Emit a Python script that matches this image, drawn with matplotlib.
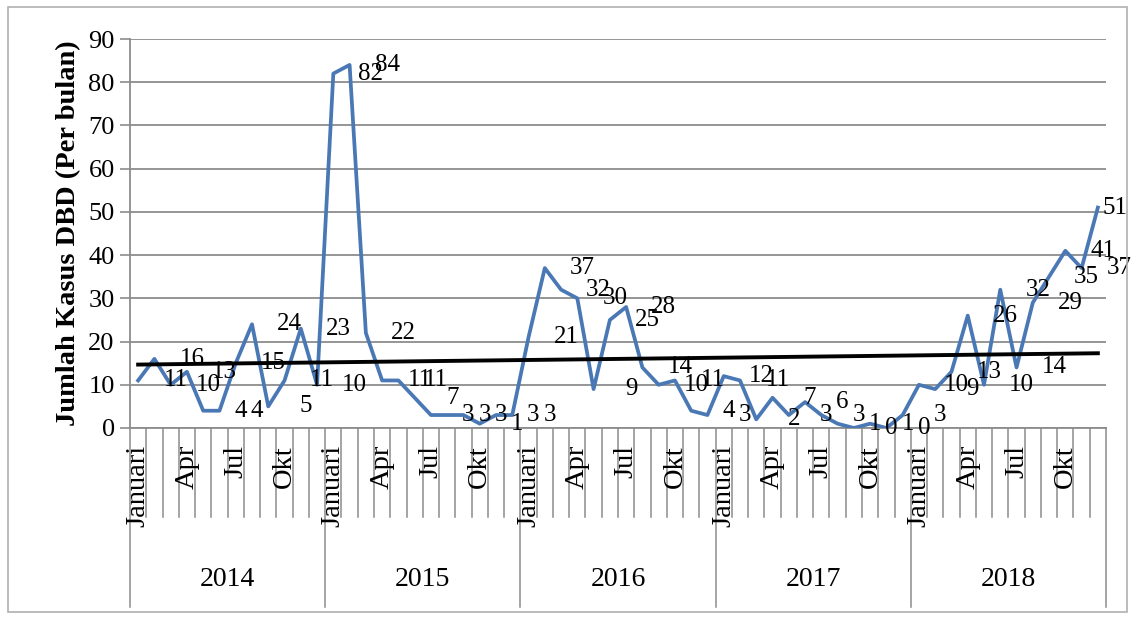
# Monthly DBD cases 2014-2018 with linear trend
import numpy as np
import matplotlib.pyplot as plt
import matplotlib.transforms as mtransforms
from matplotlib.patches import Rectangle

plt.rcParams['font.family'] = ['Liberation Serif', 'DejaVu Serif']

years = ['2014', '2015', '2016', '2017', '2018']
month_labels = {0: 'Januari', 3: 'Apr', 6: 'Jul', 9: 'Okt'}

cases_2014 = [11, 16, 10, 13, 4, 4, 15, 24, 5, 11, 23, 10]
cases_2015 = [82, 84, 22, 11, 11, 7, 3, 3, 3, 1, 3, 3]
cases_2016 = [21, 37, 32, 30, 9, 25, 28, 14, 10, 11, 4, 3]
cases_2017 = [12, 11, 2, 7, 3, 6, 3, 1, 0, 1, 0, 3]
cases_2018 = [10, 9, 13, 26, 10, 32, 14, 29, 35, 41, 37, 51]

cases = np.array(cases_2014 + cases_2015 + cases_2016 + cases_2017 + cases_2018)
x = np.arange(len(cases))

W, H = 1134, 619
fig = plt.figure(figsize=(W / 100, H / 100), dpi=100)
# plot area in pixels: left 130, right 1106, top 39, bottom 428
ax = fig.add_axes([130 / W, 1 - 428 / H, (1106 - 130) / W, (428 - 39) / H])
ax_h = 428 - 39

grid_col = '#8c8c8c'
ax.set_xlim(-0.5, len(cases) - 0.5)
ax.set_ylim(0, 90)
ax.set_yticks(range(0, 91, 10))
ax.yaxis.grid(True, color=grid_col, linewidth=1.3)
ax.set_axisbelow(True)
ax.tick_params(axis='y', labelsize=19, length=7, width=1.2, color=grid_col, pad=4)
ax.set_xticks([])
for s in ['top', 'right']:
    ax.spines[s].set_visible(False)
for s in ['left', 'bottom']:
    ax.spines[s].set_color(grid_col)
    ax.spines[s].set_linewidth(1.3)

ax.set_ylabel('Jumlah Kasus DBD (Per bulan)', fontsize=20.5, fontweight='bold', labelpad=5)

# data line
ax.plot(x, cases, color='#4a78b5', linewidth=2.7, zorder=3)

# linear trend line
slope, intercept = np.polyfit(x, cases, 1)
ax.plot(x, slope * x + intercept, color='black', linewidth=2.8, zorder=4)

# value labels to the right of each point
for i, v in enumerate(cases):
    dx = 27 if i < len(cases) - 1 else 12
    ax.annotate(str(v), (i, v), xytext=(dx, 0), textcoords='offset points',
                ha='center', va='center', fontsize=18, annotation_clip=False, zorder=5)

# category axis: month cells, month names and year groups
trans = mtransforms.blended_transform_factory(ax.transData, ax.transAxes)
month_bottom = -(517 - 428) / ax_h
year_bottom = -(607 - 428) / ax_h
for b in range(len(cases) + 1):
    low = year_bottom if b % 12 == 0 else month_bottom
    ax.plot([b - 0.5, b - 0.5], [0, low], color=grid_col, linewidth=1.1,
            transform=trans, clip_on=False)

for k, yr in enumerate(years):
    for m, name in month_labels.items():
        ax.text(12 * k + m, -(445 - 428) / ax_h, name, transform=trans, rotation=90,
                ha='center', va='top', fontsize=20.5)
    ax.text(12 * k + 5.5, -(580 - 428) / ax_h, yr, transform=trans,
            ha='center', va='center', fontsize=20)

# chart border
fig.patches.append(Rectangle((8 / W, 7 / H), (1127 - 8) / W, (612 - 7) / H,
                             transform=fig.transFigure, fill=False,
                             edgecolor='#b0b0b0', linewidth=1.2))

fig.savefig('out.png', dpi=100)
